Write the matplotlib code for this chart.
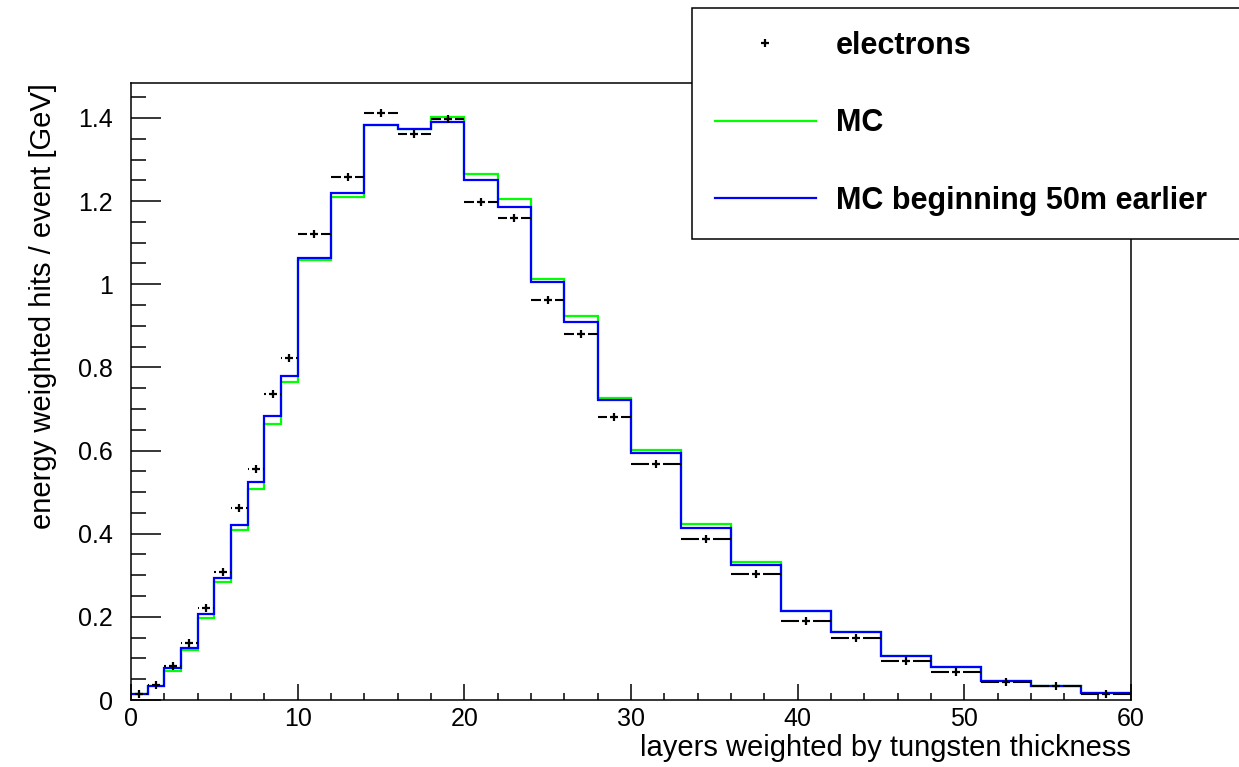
import numpy as np
import matplotlib
matplotlib.use("Agg")
import matplotlib.pyplot as plt

# bin edges: unit bins up to 10, then 2-wide up to 30, then 3-wide up to 60
edges = [0, 1, 2, 3, 4, 5, 6, 7, 8, 9, 10, 12, 14, 16, 18, 20, 22, 24, 26, 28,
         30, 33, 36, 39, 42, 45, 48, 51, 54, 57, 60]

# data points (electrons)
electrons = [0.015, 0.036, 0.081, 0.137, 0.222, 0.308, 0.462, 0.556, 0.735, 0.823,
             1.121, 1.258, 1.413, 1.362, 1.398, 1.197, 1.160, 0.961, 0.880, 0.680,
             0.568, 0.387, 0.302, 0.191, 0.148, 0.095, 0.068, 0.044, 0.034, 0.015]

# MC (green)
mc = [0.014, 0.033, 0.070, 0.121, 0.197, 0.283, 0.410, 0.507, 0.663, 0.765,
      1.059, 1.211, 1.383, 1.373, 1.403, 1.265, 1.205, 1.013, 0.924, 0.726,
      0.602, 0.424, 0.332, 0.215, 0.163, 0.105, 0.080, 0.046, 0.033, 0.018]

# MC beginning 50m earlier (blue)
mc_early = [0.015, 0.034, 0.076, 0.125, 0.206, 0.293, 0.420, 0.525, 0.684, 0.779,
            1.063, 1.219, 1.383, 1.373, 1.389, 1.251, 1.185, 1.005, 0.910, 0.721,
            0.594, 0.414, 0.325, 0.215, 0.163, 0.105, 0.080, 0.046, 0.033, 0.018]

labels = ["electrons", "MC", "MC beginning 50m earlier"]
xtitle = "layers weighted by tungsten thickness"
ytitle = "energy weighted hits / event [GeV]"

plt.rcParams['font.family'] = ['Liberation Sans', 'DejaVu Sans']

W, H = 1239, 767
fig = plt.figure(figsize=(W / 100, H / 100), dpi=100)
ax = fig.add_axes([131 / W, 67 / H, 1000 / W, 617 / H])

edges = np.array(edges)
centers = 0.5 * (edges[:-1] + edges[1:])

h_mc = ax.stairs(mc, edges, baseline=None, color=(0, 1, 0), lw=1.6)
h_early = ax.stairs(mc_early, edges, baseline=None, color=(0, 0, 1), lw=1.6)

# horizontal bin-width bars with a gap around the marker (ROOT style)
gap = 0.42
ax.hlines(electrons, edges[:-1], centers - gap, color='black', lw=1.5)
ax.hlines(electrons, centers + gap, edges[1:], color='black', lw=1.5)
h_el, = ax.plot(centers, electrons, '+', color='black', ms=5.5, mew=1.6)

ax.set_xlim(0, 60)
ax.set_ylim(0, 1.484)
ax.set_xticks(np.arange(0, 61, 10))
ax.set_xticks(np.arange(0, 61, 2), minor=True)
ax.set_yticks(np.arange(0, 1.41, 0.2))
ax.set_yticks(np.arange(0, 1.46, 0.05), minor=True)
ax.set_yticklabels(['0', '0.2', '0.4', '0.6', '0.8', '1', '1.2', '1.4'])

ax.tick_params(axis='y', which='major', direction='in', length=21.5, width=1.1,
               labelsize=18, pad=13)
ax.tick_params(axis='y', which='minor', direction='in', length=10.8, width=1.1)
ax.tick_params(axis='x', which='major', direction='in', length=11.5, width=1.1,
               labelsize=18, pad=5)
ax.tick_params(axis='x', which='minor', direction='in', length=5, width=1.1)
for sp in ax.spines.values():
    sp.set_linewidth(1.1)

ax.set_xlabel(xtitle, loc='right', fontsize=21, labelpad=2)
ax.set_ylabel(ytitle, loc='top', fontsize=21, labelpad=15)

leg = fig.legend([h_el, h_mc, h_early], labels, loc='upper left',
                 bbox_to_anchor=(692 / W, 1 - 8 / H - 0.01, 620 / W, 0.01),
                 mode='expand', borderaxespad=0, frameon=True, fancybox=False,
                 edgecolor='black', framealpha=1, prop={'weight': 'bold', 'size': 22},
                 handlelength=3.3, handletextpad=0.65, labelspacing=1.55, borderpad=0.75)
leg.get_frame().set_linewidth(1.1)

fig.savefig("out.png", dpi=100)
